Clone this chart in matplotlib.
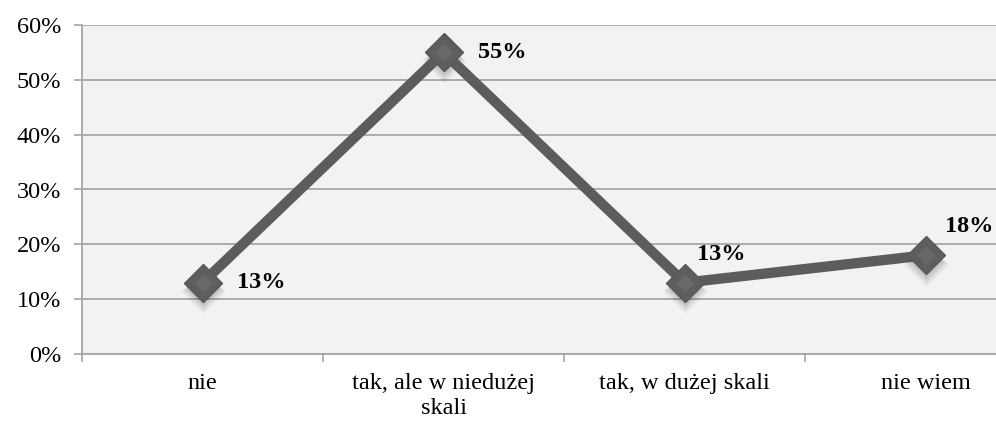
import matplotlib.pyplot as plt
import matplotlib.transforms as mtransforms
from matplotlib.ticker import FixedLocator, PercentFormatter

categories = ["nie", "tak, ale w niedużej\nskali", "tak, w dużej skali", "nie wiem"]
shares = [13, 55, 13, 18]
# offsets of the value labels (points), right/up from each marker
label_dx = [25, 25, 9, 14]
label_dy = [0, 0, 20, 21]

plt.rcParams["font.family"] = ["Liberation Serif", "DejaVu Serif"]

fig = plt.figure(figsize=(9.96, 4.23), dpi=100)
ax = fig.add_axes([82 / 996, 69 / 423, 964 / 996, 329 / 423])
ax.set_facecolor("#f2f2f2")

x = list(range(len(categories)))

# soft drop shadow under the markers
for i in range(6):
    off = mtransforms.ScaledTranslation(0, -(3 + i * 0.6) / 72, fig.dpi_scale_trans)
    ax.plot(x, shares, ls="none", marker="D", ms=14 + i * 1.6, mfc="black",
            mec="none", alpha=0.05, transform=ax.transData + off, zorder=2)

ax.plot(x, shares, color="#5c5c5c", lw=7.4, solid_capstyle="butt", zorder=3)
ax.plot(x, shares, ls="none", marker="D", ms=19, mfc="#5e5e5e", mec="#565656",
        mew=1, zorder=4)
ax.plot(x, shares, ls="none", marker="D", ms=9, mfc="#686868", mec="none",
        zorder=5)

for xi, v, dx, dy in zip(x, shares, label_dx, label_dy):
    ax.annotate(f"{v}%", (xi, v), xytext=(dx, dy), textcoords="offset points",
                ha="left", va="center", fontsize=17.5, fontweight="bold",
                color="black", zorder=6)

ax.set_xlim(-0.5, len(categories) - 0.5)
ax.set_ylim(0, 60)
ax.set_yticks(range(0, 61, 10))
ax.yaxis.set_major_formatter(PercentFormatter(decimals=0))
ax.grid(axis="y", color="#a6a6a6", lw=1.3)
ax.set_axisbelow(True)

ax.set_xticks(x)
ax.set_xticklabels(categories)
for lbl in ax.get_xticklabels():
    lbl.set_linespacing(1.2)
ax.xaxis.set_minor_locator(FixedLocator([i - 0.5 for i in range(len(categories) + 1)]))
ax.tick_params(axis="x", which="major", length=0, pad=14, labelsize=17.5)
ax.tick_params(axis="x", which="minor", length=6, width=1.2, color="#a6a6a6",
               direction="out")
ax.tick_params(axis="y", length=6, width=1.2, color="#a6a6a6", labelsize=17.5,
               pad=9)

for side in ["top", "right"]:
    ax.spines[side].set_visible(False)
for side in ["left", "bottom"]:
    ax.spines[side].set_color("#a6a6a6")
    ax.spines[side].set_linewidth(1.3)

fig.savefig("out.png", dpi=100)
